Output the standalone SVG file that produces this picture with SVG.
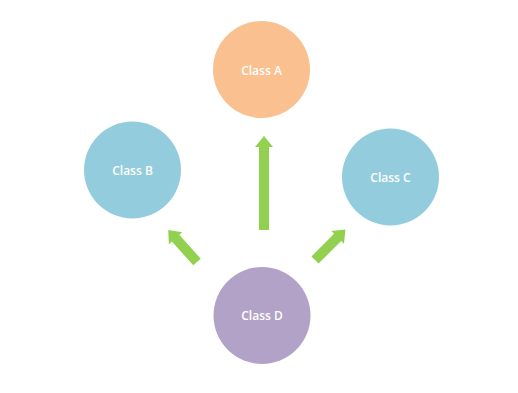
<svg xmlns="http://www.w3.org/2000/svg" xmlns:xlink="http://www.w3.org/1999/xlink" width="518" height="393" viewBox="0 0 518 393">
<style>
.lbl{font-family:"Open Sans","Liberation Sans",sans-serif;font-size:12px;font-weight:600;fill:#ffffff;text-anchor:middle;dominant-baseline:central}
.arrow{fill:#92D050}
</style>
<defs>
<path id="arr43" d="M-5,0 L-5,-32 L-9,-32 L0,-43 L9,-32 L5,-32 L5,0 Z"/>
</defs>
<rect width="518" height="393" fill="#ffffff"/>
<g id="connectors" class="arrow">
<path d="M259,230 L259,147 L255,147 L264,136 L273,147 L269,147 L269,230 Z"/>
<use xlink:href="#arr43" transform="translate(197,262) rotate(-42)"/>
<use xlink:href="#arr43" transform="translate(315,260) rotate(45)"/>
</g>
<g id="classA">
<circle cx="261.5" cy="69.5" r="48.5" fill="#FAC090"/>
<text class="lbl" x="261.5" y="70">Class A</text>
</g>
<g id="classB">
<circle cx="132.5" cy="170" r="48.5" fill="#93CDDD"/>
<text class="lbl" x="132.5" y="170">Class B</text>
</g>
<g id="classC">
<circle cx="390.5" cy="177" r="48.5" fill="#93CDDD"/>
<text class="lbl" x="390.5" y="177">Class C</text>
</g>
<g id="classD">
<circle cx="262" cy="315.5" r="48.5" fill="#B3A2C7"/>
<text class="lbl" x="262" y="315.5">Class D</text>
</g>
</svg>
